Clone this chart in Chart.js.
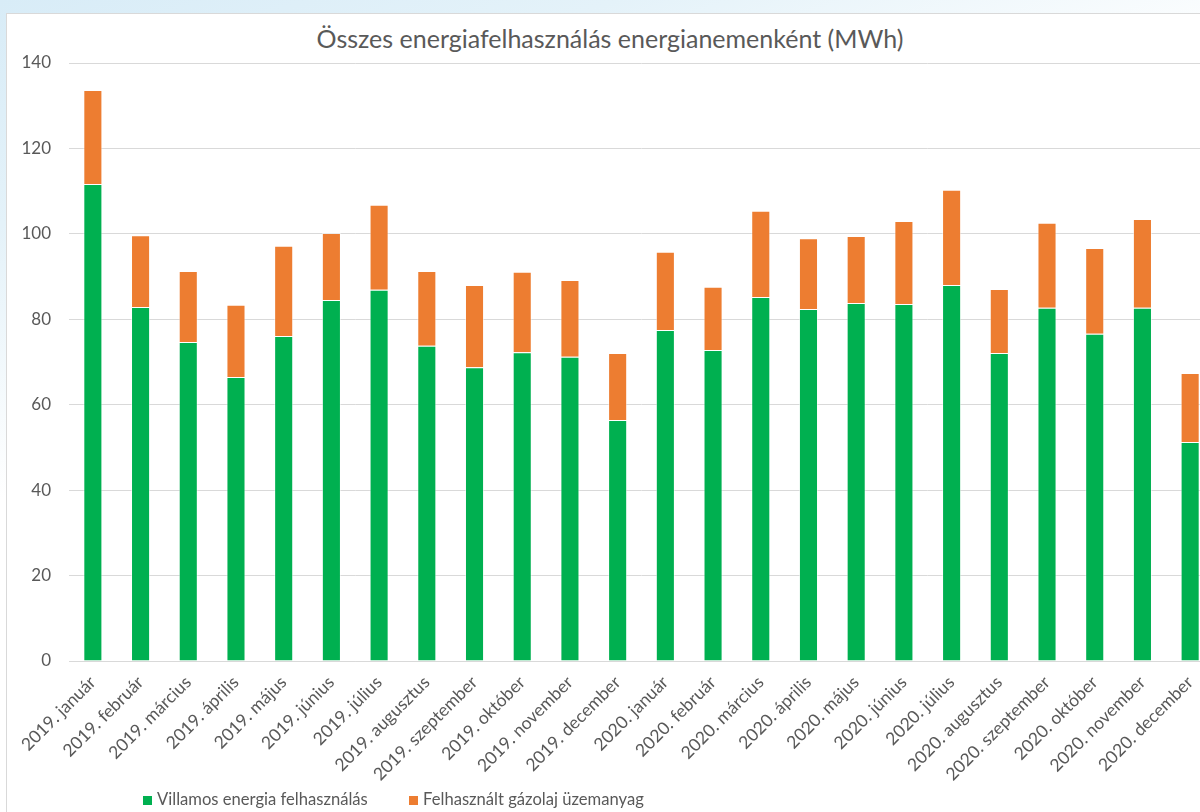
<!DOCTYPE html>
<html>
<head>
<meta charset="utf-8">
<script src="https://cdn.jsdelivr.net/npm/chart.js@4/dist/chart.umd.min.js"></script>
<style>
  html, body { margin:0; padding:0; width:1200px; height:812px; overflow:hidden; background:#fff; }
  #bg { position:absolute; left:0; top:0; width:1200px; height:812px;
        background: linear-gradient(160deg, #d8ecf7 0%, #e4f2f9 18%, #ffffff 40%); }
  #box { position:absolute; left:6px; top:13px; width:1220px; height:820px;
         background:#fff; border:1px solid #d9d9d9; }
  #wrap { position:absolute; left:7px; top:14px; width:1210px; height:798px; }
  #titulo { position:absolute; left:0; top:23px; width:1220px; text-align:center;
            font-family: Lato, "Open Sans", sans-serif; font-size:25px; color:#595959; }
  #leyenda { position:absolute; top:789px; left:143px; font-family: Lato, sans-serif;
             font-size:16.6px; color:#595959; white-space:nowrap; }
  #leyenda span.cuadro { display:inline-block; width:9px; height:9px; margin-right:5px; }
  #leyenda span.item { margin-right:37px; }
</style>
</head>
<body>
<div id="bg"></div>
<div id="box"></div>
<div id="titulo">Összes energiafelhasználás energianemenként (MWh)</div>
<div id="wrap"><canvas id="grafico" width="1210" height="798"></canvas></div>
<div id="leyenda">
  <span class="item"><span class="cuadro" style="background:#00B050"></span>Villamos energia felhasználás</span>
  <span class="item"><span class="cuadro" style="background:#ED7D31"></span>Felhasznált gázolaj üzemanyag</span>
</div>
<script>
var meses = ['2019. január','2019. február','2019. március','2019. április','2019. május','2019. június',
  '2019. július','2019. augusztus','2019. szeptember','2019. október','2019. november','2019. december',
  '2020. január','2020. február','2020. március','2020. április','2020. május','2020. június',
  '2020. július','2020. augusztus','2020. szeptember','2020. október','2020. november','2020. december'];

var villamos = [111.7, 82.9, 74.7, 66.5, 76.1, 84.5, 86.9, 73.8, 68.8, 72.3, 71.2, 56.4,
  77.5, 72.8, 85.2, 82.4, 83.8, 83.6, 88.0, 72.1, 82.7, 76.6, 82.7, 51.3];

var gazolaj = [22.0, 16.8, 16.6, 16.9, 21.1, 15.7, 19.9, 17.5, 19.2, 18.8, 18.0, 15.7,
  18.3, 14.8, 20.2, 16.6, 15.7, 19.4, 22.3, 15.0, 19.9, 20.1, 20.8, 16.1];

var nombres = ['Villamos energia felhasználás', 'Felhasznált gázolaj üzemanyag'];
var colores = ['#00B050', '#ED7D31'];

CrearGrafico('grafico');

function CrearGrafico(id){
  var ctx = document.getElementById(id);
  var myChart = new Chart(ctx, {
    type: 'bar',
    data: {
      labels: meses,
      datasets: [{
        label: nombres[0],
        data: villamos,
        backgroundColor: colores[0],
        borderColor: 'rgba(255,255,255,0.5)',
        borderWidth: 1,
        barPercentage: 0.4,
        categoryPercentage: 1
      },{
        label: nombres[1],
        data: gazolaj,
        backgroundColor: colores[1],
        borderColor: 'rgba(255,255,255,0.5)',
        borderWidth: 1,
        barPercentage: 0.4,
        categoryPercentage: 1
      }]
    },
    options: {
      responsive: false,
      animation: false,
      layout: { padding: { top: 49, right: 3, bottom: 11, left: 0 } },
      plugins: {
        legend: { display: false },
        title: { display: false },
        tooltip: { enabled: false }
      },
      scales: {
        x: {
          stacked: true,
          grid: { display: false, drawTicks: false },
          border: { display: true, color: '#d9d9d9', width: 1 },
          ticks: {
            color: '#595959',
            font: { family: 'Lato', size: 17.5 },
            maxRotation: 45,
            minRotation: 45,
            autoSkip: false,
            padding: 11
          },
          afterFit: function(scale){ scale.height = 140; }
        },
        y: {
          stacked: true,
          min: 0,
          max: 140,
          ticks: {
            stepSize: 20,
            color: '#595959',
            font: { family: 'Lato', size: 17 },
            padding: 18
          },
          grid: { color: '#d9d9d9', lineWidth: 1, drawTicks: false },
          border: { display: false },
          afterFit: function(scale){ scale.width = 62; }
        }
      }
    }
  });
}
</script>
</body>
</html>
